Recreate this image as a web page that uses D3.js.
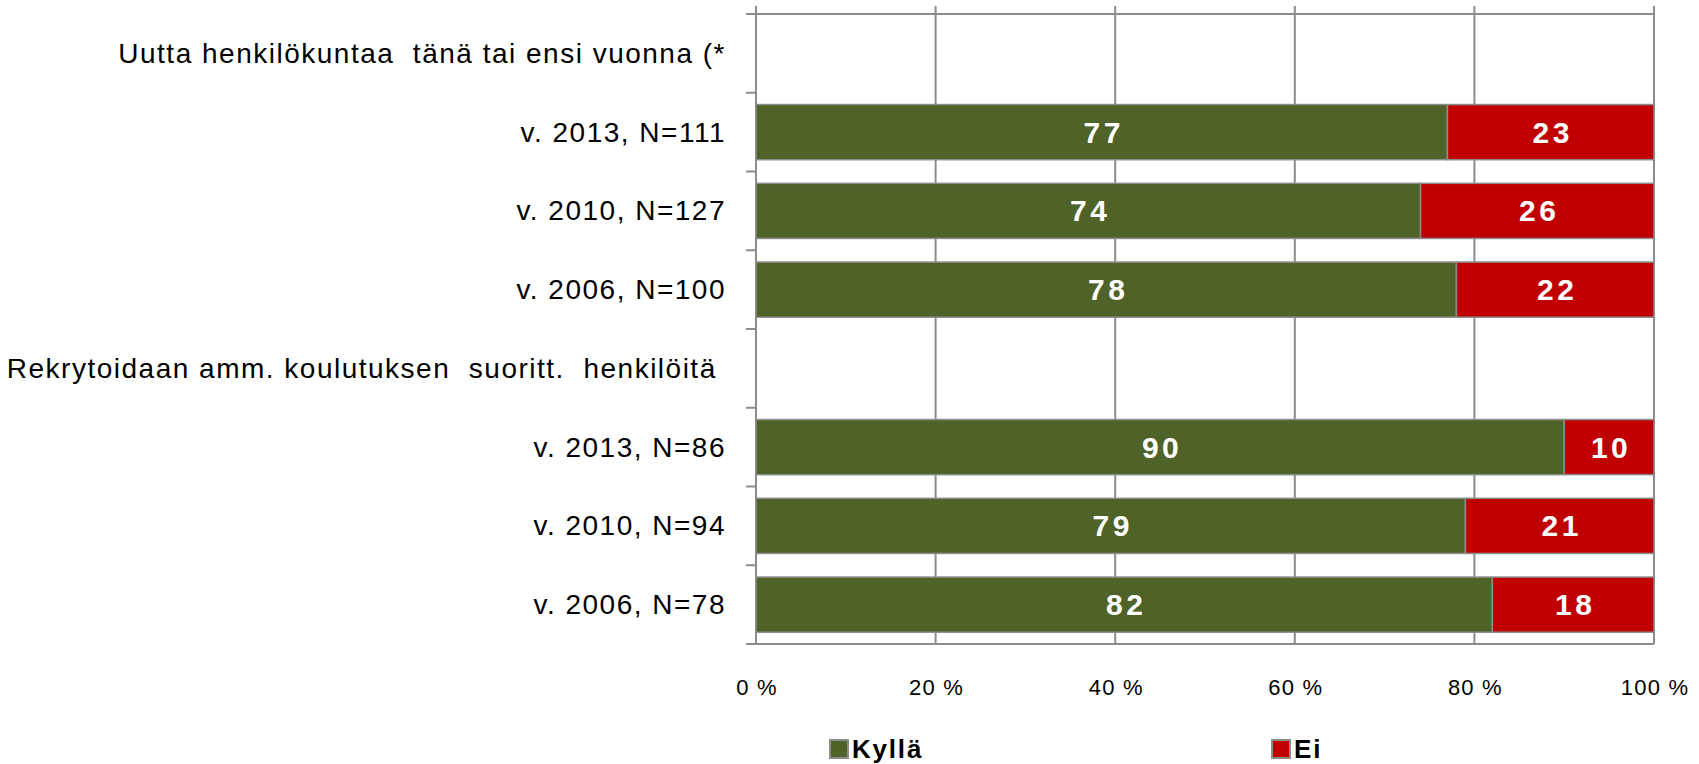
<!DOCTYPE html>
<html>
<head>
<meta charset="utf-8">
<script src="https://cdn.jsdelivr.net/npm/d3@7"></script>
<style>
  html, body { margin: 0; padding: 0; background: #fff; }
  svg { display: block; }
  text { font-family: "Liberation Sans", Arial, sans-serif; }
</style>
</head>
<body>
<svg id="chart" width="1699" height="764"></svg>
<script>
// Category rows, top to bottom (group headers have no bar)
const categories = [
  "Uutta henkilökuntaa  tänä tai ensi vuonna (*",
  "v. 2013, N=111",
  "v. 2010, N=127",
  "v. 2006, N=100",
  "Rekrytoidaan amm. koulutuksen  suoritt.  henkilöitä ",
  "v. 2013, N=86",
  "v. 2010, N=94",
  "v. 2006, N=78"
];
// Share answering "Kyllä" / "Ei" (%), null for header rows
const kyllaValues = [null, 77, 74, 78, null, 90, 79, 82];
const eiValues    = [null, 23, 26, 22, null, 10, 21, 18];
const seriesNames = ["Kyllä", "Ei"];
const seriesColors = ["#4f6228", "#c00000"];
const xTicks = [0, 20, 40, 60, 80, 100];

const svg = d3.select("#chart");
const margin = { left: 756, right: 45, top: 14, bottom: 120 };
const W = 1699, H = 764;
const plotBottom = H - margin.bottom;

const x = d3.scaleLinear().domain([0, 100]).range([margin.left, W - margin.right]);
const y = d3.scaleBand().domain(d3.range(categories.length))
  .range([margin.top, plotBottom]).paddingInner(0.3).paddingOuter(0.15);
const yOuter = d3.scaleBand().domain(d3.range(categories.length))
  .range([margin.top, plotBottom]);

const gridColor = "#8c8c8c";

// Vertical gridlines (extend slightly above the plot top as tick marks)
svg.append("g").selectAll("line").data(xTicks).join("line")
  .attr("x1", d => x(d)).attr("x2", d => x(d))
  .attr("y1", margin.top - 8).attr("y2", plotBottom)
  .attr("stroke", gridColor).attr("stroke-width", 2);

// Top plot border
svg.append("line").attr("x1", x(0)).attr("x2", x(100))
  .attr("y1", margin.top).attr("y2", margin.top)
  .attr("stroke", gridColor).attr("stroke-width", 2);

// Category axis with ticks between rows
const catTicks = d3.range(categories.length + 1).map(i =>
  i < categories.length ? yOuter(i) : plotBottom);
svg.append("g").selectAll("line").data(catTicks).join("line")
  .attr("x1", x(0) - 10).attr("x2", x(0))
  .attr("y1", d => d).attr("y2", d => d)
  .attr("stroke", gridColor).attr("stroke-width", 2);
svg.append("line").attr("x1", x(0) - 10).attr("x2", x(100))
  .attr("y1", plotBottom).attr("y2", plotBottom)
  .attr("stroke", gridColor).attr("stroke-width", 2);

// Category labels
svg.append("g").selectAll("text").data(categories).join("text")
  .attr("x", x(0) - 30)
  .attr("y", (d, i) => yOuter(i) + yOuter.bandwidth() / 2)
  .attr("text-anchor", "end")
  .attr("dominant-baseline", "central")
  .style("white-space", "pre")
  .attr("font-size", 28)
  .attr("letter-spacing", 1.5)
  .attr("fill", "#000")
  .text(d => d);

// Stacked bars
const rows = categories.map((c, i) => ({ i, k: kyllaValues[i], e: eiValues[i] }))
  .filter(r => r.k !== null);
const segs = [];
rows.forEach(r => {
  segs.push({ i: r.i, x0: 0, x1: r.k, v: r.k, s: 0 });
  segs.push({ i: r.i, x0: r.k, x1: r.k + r.e, v: r.e, s: 1 });
});
svg.append("g").selectAll("rect").data(segs).join("rect")
  .attr("x", d => x(d.x0)).attr("width", d => x(d.x1) - x(d.x0))
  .attr("y", d => y(d.i)).attr("height", y.bandwidth())
  .attr("fill", d => seriesColors[d.s])
  .attr("stroke", "#8c8c8c").attr("stroke-width", 1.5);

// Value labels
svg.append("g").selectAll("text").data(segs).join("text")
  .attr("x", d => (x(d.x0) + x(d.x1)) / 2 + 2)
  .attr("y", d => y(d.i) + y.bandwidth() / 2)
  .attr("text-anchor", "middle")
  .attr("dominant-baseline", "central")
  .attr("font-size", 30).attr("font-weight", "bold")
  .attr("letter-spacing", 3.5)
  .attr("fill", "#fff")
  .text(d => d.v);

// Value axis labels
svg.append("g").selectAll("text").data(xTicks).join("text")
  .attr("x", d => x(d) + 1).attr("y", 687)
  .attr("text-anchor", "middle").attr("dominant-baseline", "central")
  .attr("font-size", 22).attr("letter-spacing", 1.2).attr("fill", "#000")
  .text(d => d + " %");

// Legend
const legendX = [829, 1271];
const lg = svg.append("g").selectAll("g").data(seriesNames).join("g")
  .attr("transform", (d, i) => `translate(${legendX[i]},739)`);
lg.append("rect").attr("x", 1).attr("y", 1).attr("width", 18).attr("height", 18)
  .attr("fill", (d, i) => seriesColors[i])
  .attr("stroke", "#8c8c8c").attr("stroke-width", 2);
lg.append("text").attr("x", 23).attr("y", 10)
  .attr("dominant-baseline", "central")
  .attr("font-size", 26).attr("font-weight", "bold")
  .attr("letter-spacing", 1.8).attr("fill", "#000")
  .text(d => d);
</script>
</body>
</html>
